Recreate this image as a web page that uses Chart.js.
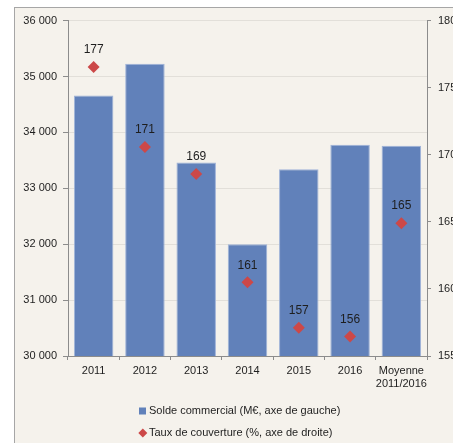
<!DOCTYPE html>
<html><head><meta charset="utf-8">
<script src="https://cdn.jsdelivr.net/npm/chart.js@4/dist/chart.umd.min.js"></script>
<style>
html,body{margin:0;padding:0;background:#fff;overflow:hidden;width:453px;height:443px;}
#frame{position:absolute;left:14px;top:7px;width:470px;height:450px;background:#F5F2EC;border-left:1px solid #A6A6A6;border-top:1px solid #A6A6A6;}
#c{position:absolute;left:-1px;top:-1px;}
</style></head>
<body>
<div id="frame"><canvas id="c" width="470" height="450"></canvas></div>
<script>
const categories = ['2011','2012','2013','2014','2015','2016',['Moyenne','2011/2016']];
const soldeCommercial = [34660, 35230, 33460, 32000, 33340, 33780, 33760];
const tauxCouverture = [176.55, 170.57, 168.56, 160.5, 157.1, 156.46, 164.9];
const leftTicks = {min:30000, max:36000, step:1000};
const rightTicks = {min:155, max:180, step:5};
const seriesNames = ['Solde commercial (M€, axe de gauche)', 'Taux de couverture (%, axe de droite)'];

const FONT = 'Liberation Sans, Arial, sans-serif';
const BAR = '#6181BA', RED = '#CC4848', AXIS = '#8C8C8C', GRID = '#E2DFD9', TXT = '#1E1E1E';

const fmt = v => String(v).replace(/\B(?=(\d{3})+(?!\d))/g, ' ');

const labelPlugin = {
  id: 'pointLabels',
  afterDatasetsDraw(chart) {
    const ctx = chart.ctx;
    const meta = chart.getDatasetMeta(1);
    ctx.save();
    ctx.font = '12px ' + FONT;
    ctx.fillStyle = TXT;
    ctx.textAlign = 'center';
    ctx.textBaseline = 'middle';
    meta.data.forEach((p, i) => {
      ctx.fillText(String(Math.round(tauxCouverture[i])), p.x, p.y - 17);
    });
    ctx.restore();
  }
};

const legendPlugin = {
  id: 'customLegend',
  afterDraw(chart) {
    const ctx = chart.ctx;
    const b = chart.chartArea.bottom;
    const x0 = 125;
    ctx.save();
    ctx.font = '11px ' + FONT;
    ctx.textBaseline = 'middle';
    ctx.textAlign = 'left';
    let y = b + 55;
    ctx.fillStyle = BAR;
    ctx.fillRect(x0, y - 3.5, 7, 7);
    ctx.fillStyle = TXT;
    ctx.fillText(seriesNames[0], x0 + 10, y);
    y = b + 77;
    ctx.fillStyle = RED;
    ctx.beginPath();
    ctx.moveTo(x0 + 3.8, y - 4.5); ctx.lineTo(x0 + 8.3, y); ctx.lineTo(x0 + 3.8, y + 4.5); ctx.lineTo(x0 - 0.7, y);
    ctx.closePath(); ctx.fill();
    ctx.fillStyle = TXT;
    ctx.fillText(seriesNames[1], x0 + 10, y);
    ctx.restore();
  }
};

new Chart(document.getElementById('c'), {
  type: 'bar',
  data: {
    labels: categories,
    datasets: [
      {label: seriesNames[0], data: soldeCommercial, backgroundColor: BAR, borderColor: '#9FB3D8', borderWidth: 1,
       categoryPercentage: 1, barPercentage: 0.77, yAxisID: 'y', order: 2},
      {type: 'line', label: seriesNames[1], data: tauxCouverture, showLine: false, yAxisID: 'y1', order: 1,
       pointStyle: 'rectRot', pointRadius: 6, pointBackgroundColor: RED, pointBorderColor: RED, pointBorderWidth: 0}
    ]
  },
  options: {
    responsive: false, animation: false, devicePixelRatio: 1,
    layout: {padding: {top: 13, left: 0, right: 0, bottom: 0}},
    plugins: {legend: {display: false}, tooltip: {enabled: false}},
    scales: {
      x: {
        grid: {offset: true, drawOnChartArea: false, drawTicks: true, tickLength: 4, tickColor: AXIS},
        border: {color: AXIS},
        ticks: {padding: 4, color: TXT, font: {family: FONT, size: 11}, maxRotation: 0, autoSkip: false},
        afterFit: s => { s.height = 101; }
      },
      y: {
        position: 'left', min: leftTicks.min, max: leftTicks.max,
        ticks: {stepSize: leftTicks.step, padding: 6, color: TXT, font: {family: FONT, size: 11}, callback: v => fmt(v)},
        grid: {color: GRID, tickColor: AXIS, tickLength: 5},
        border: {color: AXIS},
        afterFit: s => { s.width = 54; }
      },
      y1: {
        position: 'right', min: rightTicks.min, max: rightTicks.max,
        ticks: {stepSize: rightTicks.step, padding: 7, color: TXT, font: {family: FONT, size: 11}},
        grid: {drawOnChartArea: false, tickColor: AXIS, tickLength: 4},
        border: {color: AXIS},
        afterFit: s => { s.width = 57; }
      }
    }
  },
  plugins: [labelPlugin, legendPlugin]
});
</script>
</body></html>
